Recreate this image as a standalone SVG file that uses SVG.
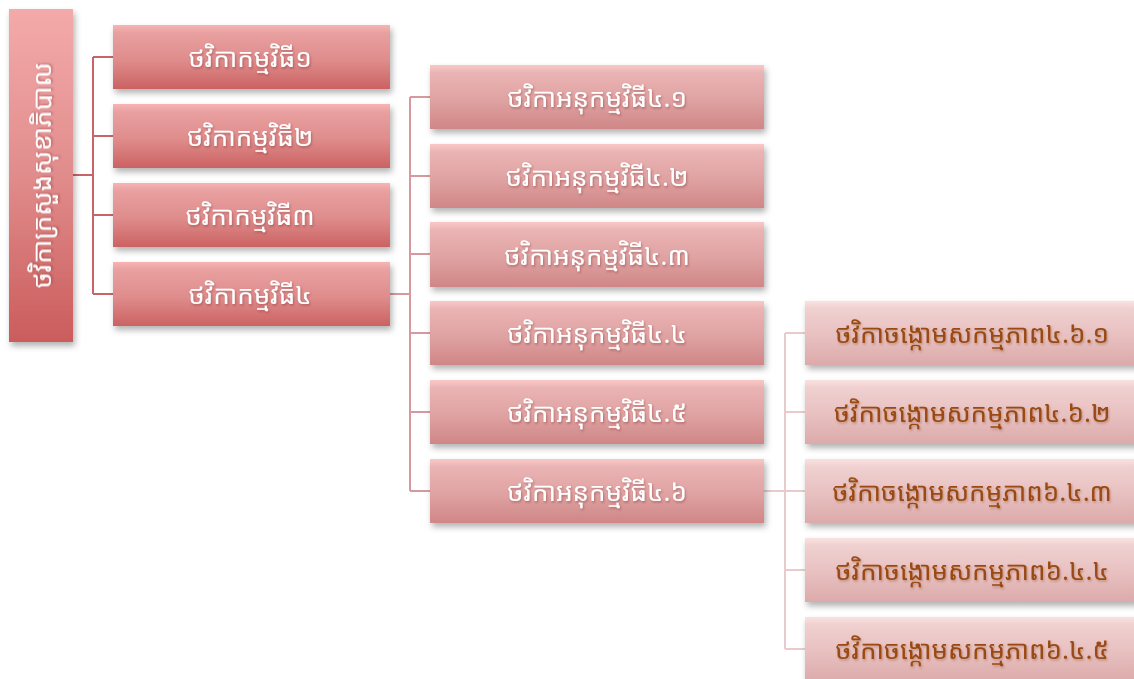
<svg xmlns="http://www.w3.org/2000/svg" width="1134" height="679" viewBox="0 0 1134 679">
<style>
.t{font-family:"Khmer OS","Noto Sans Khmer","Noto Serif Khmer","Khmer OS System","DejaVu Sans",sans-serif;font-size:26px;text-anchor:middle;dominant-baseline:central}
.w{fill:#ffffff;filter:url(#tg)}
.b{fill:#9a4a12;filter:url(#tb)}
.c1{stroke:#c6646a;stroke-width:2;fill:none}
.c2{stroke:#d69a9e;stroke-width:2;fill:none}
.c3{stroke:#e9cbcd;stroke-width:2;fill:none}
.l0{fill:url(#g0);filter:url(#sh)}
.l1{fill:url(#g1);filter:url(#sh)}
.l2{fill:url(#g2);filter:url(#sh)}
.l3{fill:url(#g3);filter:url(#sh)}
</style>
<defs>
<linearGradient id="g0" x1="0" y1="0" x2="0" y2="1">
<stop offset="0" stop-color="#f4aaaa"/><stop offset="0.5" stop-color="#e18c8c"/><stop offset="1" stop-color="#cb5c5c"/>
</linearGradient>
<linearGradient id="g1" x1="0" y1="0" x2="0" y2="1">
<stop offset="0" stop-color="#f8b4b4"/><stop offset="0.12" stop-color="#e9a0a0"/><stop offset="0.55" stop-color="#df8c8c"/><stop offset="1" stop-color="#cb6262"/>
</linearGradient>
<linearGradient id="g2" x1="0" y1="0" x2="0" y2="1">
<stop offset="0" stop-color="#fac8c8"/><stop offset="0.12" stop-color="#ebb4b4"/><stop offset="0.55" stop-color="#dfa2a2"/><stop offset="1" stop-color="#d08686"/>
</linearGradient>
<linearGradient id="g3" x1="0" y1="0" x2="0" y2="1">
<stop offset="0" stop-color="#fae2e2"/><stop offset="0.12" stop-color="#f0d0d0"/><stop offset="0.55" stop-color="#e8c0c0"/><stop offset="1" stop-color="#dcaaaa"/>
</linearGradient>
<filter id="sh" x="-10%" y="-20%" width="125%" height="150%">
<feDropShadow dx="2" dy="4" stdDeviation="3" flood-color="#000" flood-opacity="0.3"/>
</filter>
<filter id="tg" x="-10%" y="-30%" width="120%" height="160%">
<feDropShadow dx="1" dy="1.5" stdDeviation="1.2" flood-color="#7a2a2a" flood-opacity="0.45"/>
</filter>
<filter id="tb" x="-10%" y="-30%" width="120%" height="160%">
<feDropShadow dx="1" dy="1.5" stdDeviation="1.2" flood-color="#6a3010" flood-opacity="0.35"/>
</filter>
</defs>

<g id="connectors">
<path class="c1" d="M73 175H93M93 57V294M93 57H113M93 136H113M93 215H113M93 294H113"/>
<path class="c2" d="M390 294H410M410 97V491M410 97H430M410 176H430M410 254H430M410 333H430M410 412H430M410 491H430"/>
<path class="c3" d="M764 491H785M785 333V649M785 333H805M785 412H805M785 491H805M785 570H805M785 649H805"/>
</g>

<g id="root">
<rect class="l0" x="9" y="9" width="64" height="333"/>
<text class="t w" transform="translate(41 175.5) rotate(-90)">ថវិកាក្រសួងសុខាភិបាល</text>
</g>

<g id="p1"><rect class="l1" x="113" y="25" width="277" height="64"/><text class="t w" x="250" y="57">ថវិកាកម្មវិធី១</text></g>
<g id="p2"><rect class="l1" x="113" y="104" width="277" height="64"/><text class="t w" x="250" y="136">ថវិកាកម្មវិធី២</text></g>
<g id="p3"><rect class="l1" x="113" y="183" width="277" height="64"/><text class="t w" x="250" y="215">ថវិកាកម្មវិធី៣</text></g>
<g id="p4"><rect class="l1" x="113" y="262" width="277" height="64"/><text class="t w" x="250" y="294">ថវិកាកម្មវិធី៤</text></g>

<g id="s1"><rect class="l2" x="430" y="65" width="334" height="64"/><text class="t w" x="597" y="97">ថវិកាអនុកម្មវិធី៤.១</text></g>
<g id="s2"><rect class="l2" x="430" y="144" width="334" height="64"/><text class="t w" x="597" y="176">ថវិកាអនុកម្មវិធី៤.២</text></g>
<g id="s3"><rect class="l2" x="430" y="222" width="334" height="65"/><text class="t w" x="597" y="254.5">ថវិកាអនុកម្មវិធី៤.៣</text></g>
<g id="s4"><rect class="l2" x="430" y="301" width="334" height="64"/><text class="t w" x="597" y="333">ថវិកាអនុកម្មវិធី៤.៤</text></g>
<g id="s5"><rect class="l2" x="430" y="380" width="334" height="64"/><text class="t w" x="597" y="412">ថវិកាអនុកម្មវិធី៤.៥</text></g>
<g id="s6"><rect class="l2" x="430" y="459" width="334" height="64"/><text class="t w" x="597" y="491">ថវិកាអនុកម្មវិធី៤.៦</text></g>

<g id="a1"><rect class="l3" x="805" y="301" width="334" height="64"/><text class="t b" x="972" y="333">ថវិកាចង្កោមសកម្មភាព៤.៦.១</text></g>
<g id="a2"><rect class="l3" x="805" y="380" width="334" height="64"/><text class="t b" x="972" y="412">ថវិកាចង្កោមសកម្មភាព៤.៦.២</text></g>
<g id="a3"><rect class="l3" x="805" y="459" width="334" height="64"/><text class="t b" x="972" y="491">ថវិកាចង្កោមសកម្មភាព៦.៤.៣</text></g>
<g id="a4"><rect class="l3" x="805" y="538" width="334" height="64"/><text class="t b" x="972" y="570">ថវិកាចង្កោមសកម្មភាព៦.៤.៤</text></g>
<g id="a5"><rect class="l3" x="805" y="617" width="334" height="64"/><text class="t b" x="972" y="649">ថវិកាចង្កោមសកម្មភាព៦.៤.៥</text></g>
</svg>
